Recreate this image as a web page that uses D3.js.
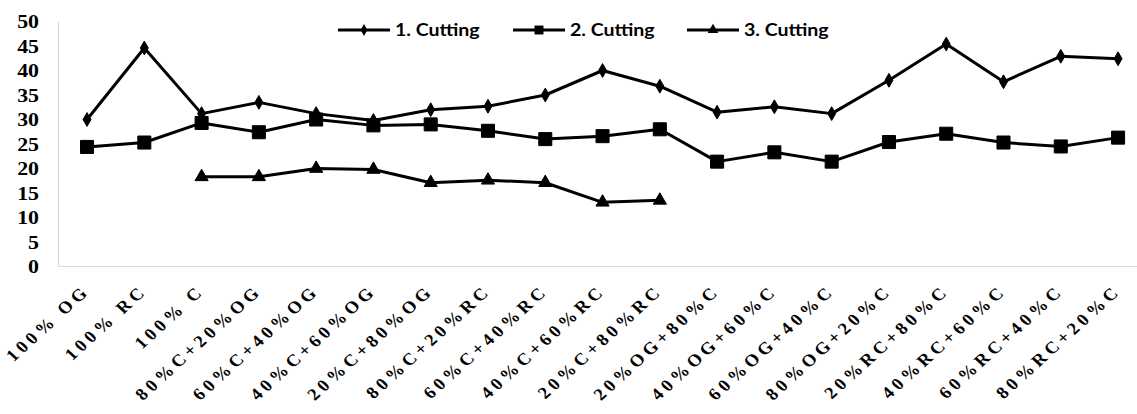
<!DOCTYPE html>
<html>
<head>
<meta charset="utf-8">
<script src="https://cdn.jsdelivr.net/npm/d3@7"></script>
<style>
  body { margin: 0; background: #fff; }
  svg { display: block; }
</style>
</head>
<body>
<div id="chart"></div>
<script>
const categories = [
  "100% OG", "100% RC", "100% C",
  "80%C+20%OG", "60%C+40%OG", "40%C+60%OG", "20%C+80%OG",
  "80%C+20%RC", "60%C+40%RC", "40%C+60%RC", "20%C+80%RC",
  "20%OG+80%C", "40%OG+60%C", "60%OG+40%C", "80%OG+20%C",
  "20%RC+80%C", "40%RC+60%C", "60%RC+40%C", "80%RC+20%C"
];

const cut1 = [30, 44.6, 31.2, 33.5, 31.2, 29.8, 32, 32.7, 35, 40, 36.8, 31.5, 32.6, 31.2, 38, 45.4, 37.7, 42.9, 42.4];
const cut2 = [24.4, 25.3, 29.3, 27.4, 30, 28.8, 29, 27.7, 26, 26.6, 28, 21.4, 23.3, 21.4, 25.4, 27.1, 25.3, 24.5, 26.3];
const cut3 = [null, null, 18.3, 18.3, 20, 19.8, 17.1, 17.6, 17.1, 13.1, 13.5, null, null, null, null, null, null, null, null];

const yTicks = [0, 5, 10, 15, 20, 25, 30, 35, 40, 45, 50];

const seriesNames = ["1. Cutting", "2. Cutting", "3. Cutting"];

const W = 1137;
const H = 414;
const SERIF = "\"Liberation Serif\"";
const SANS = "Lato";
const SX = 1.15; // Bild ist horizontal leicht gestreckt

const svg = d3.select("#chart").append("svg").attr("width", W).attr("height", H);

const x = d3.scalePoint()
  .domain(categories)
  .range([58.4, 1146.7])
  .padding(0.5);

const y = d3.scaleLinear()
  .domain([0, 50])
  .range([266.5, 21.5]);

// Achsenlinien
svg.append("line")
  .attr("x1", 58.5).attr("x2", 58.5)
  .attr("y1", y(50)).attr("y2", y(0))
  .attr("stroke", "#d9d9d9").attr("stroke-width", 1.2);

svg.append("line")
  .attr("x1", 58.5).attr("x2", W)
  .attr("y1", y(0)).attr("y2", y(0))
  .attr("stroke", "#d9d9d9").attr("stroke-width", 1.2);

// Y-Ticks
svg.append("g")
  .selectAll("text")
  .data(yTicks)
  .join("text")
  .attr("transform", d => `translate(39,${y(d)}) scale(${SX},1)`)
  .attr("dy", "0.35em")
  .attr("text-anchor", "end")
  .style("font-family", SERIF)
  .style("font-weight", "bold")
  .style("font-size", "19px")
  .text(d => d);

// X-Labels
svg.append("g")
  .selectAll("text")
  .data(categories)
  .join("text")
  .attr("transform", d => `translate(${x(d) + 4},292) scale(1.1,1) rotate(-45)`)
  .attr("text-anchor", "end")
  .style("font-family", SERIF)
  .style("font-weight", "bold")
  .style("font-size", "17px")
  .style("letter-spacing", "3.8px")
  .text(d => d);

const diamond = d3.symbol().type(d3.symbolDiamond);
const square = d3.symbol().type(d3.symbolSquare);
const triangle = d3.symbol().type(d3.symbolTriangle);

const series = [
  { name: seriesNames[0], values: cut1, sym: diamond, size: 55, legSize: 40 },
  { name: seriesNames[1], values: cut2, sym: square, size: 170, legSize: 80 },
  { name: seriesNames[2], values: cut3, sym: triangle, size: 75, legSize: 50 }
];

const line = d3.line()
  .defined(d => d.v !== null)
  .x(d => x(d.c))
  .y(d => y(d.v));

series.forEach(s => {
  const pts = categories.map((c, i) => ({ c, v: s.values[i] }));
  svg.append("path")
    .datum(pts)
    .attr("fill", "none")
    .attr("stroke", "#000")
    .attr("stroke-width", 3)
    .attr("stroke-linejoin", "round")
    .attr("d", line);

  svg.append("g")
    .selectAll("path")
    .data(pts.filter(d => d.v !== null))
    .join("path")
    .attr("transform", d => `translate(${x(d.c)},${y(d.v)})`)
    .attr("d", s.sym.size(s.size)())
    .attr("fill", "#000")
    .attr("stroke", "#000")
    .attr("stroke-width", 1);
});

// Legende
const legX = [338, 513, 687];
const legend = svg.append("g");
series.forEach((s, i) => {
  const g = legend.append("g").attr("transform", `translate(${legX[i]},30)`);
  g.append("line").attr("x1", 0).attr("x2", 52).attr("y1", 0).attr("y2", 0)
    .attr("stroke", "#000").attr("stroke-width", 3);
  g.append("path").attr("transform", "translate(26,0)").attr("d", s.sym.size(s.legSize)()).attr("fill", "#000");
  g.append("text")
    .attr("transform", `translate(57,0) scale(${SX},1)`)
    .attr("dy", "0.35em")
    .style("font-family", SANS)
    .style("font-weight", "bold")
    .style("font-size", "17px")
    .text(s.name);
});
</script>
</body>
</html>
